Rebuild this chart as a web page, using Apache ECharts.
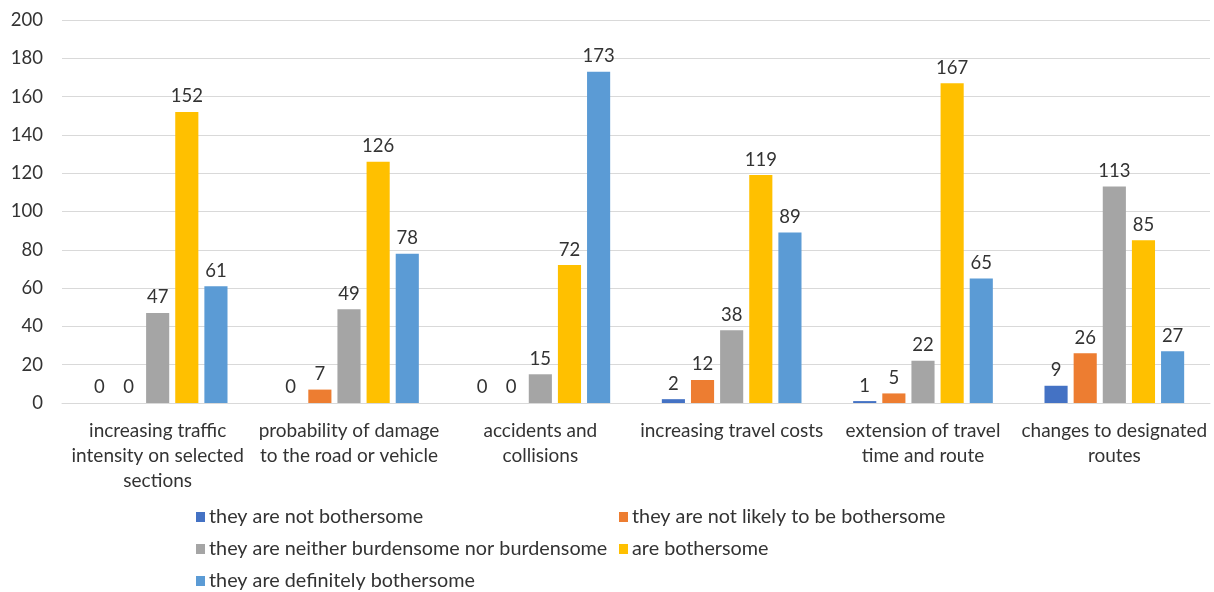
<!DOCTYPE html>
<html>
<head>
<meta charset="utf-8">
<script src="https://cdn.jsdelivr.net/npm/echarts@6/dist/echarts.min.js"></script>
<style>
  html, body { margin: 0; padding: 0; background: #fff; }
  #chart { width: 1214px; height: 592px; }
</style>
</head>
<body>
<div id="chart"></div>
<script>
// Categories (line breaks as wrapped under the axis)
const categories = [
  'increasing traffic\nintensity on selected\nsections',
  'probability of damage\nto the road or vehicle',
  'accidents and\ncollisions',
  'increasing travel costs',
  'extension of travel\ntime and route',
  'changes to designated\nroutes'
];

const seriesNames = [
  'they are not bothersome',
  'they are not likely to be bothersome',
  'they are neither burdensome nor burdensome',
  'are bothersome',
  'they are definitely bothersome'
];

const notBothersome        = [0, 0, 0, 2, 1, 9];
const notLikelyBothersome  = [0, 7, 0, 12, 5, 26];
const neitherBurdensome    = [47, 49, 15, 38, 22, 113];
const areBothersome        = [152, 126, 72, 119, 167, 85];
const definitelyBothersome = [61, 78, 173, 89, 65, 27];

const seriesValues = [notBothersome, notLikelyBothersome, neitherBurdensome, areBothersome, definitelyBothersome];
const colors = ['#4472C4', '#ED7D31', '#A5A5A5', '#FFC000', '#5B9BD5'];

const FONT = 'Lato, "Open Sans", sans-serif';
const TEXT = '#333333';

// One legend block per entry so they sit in two fixed columns
const legendPos = [
  { left: 196, top: 507 },
  { left: 619, top: 507 },
  { left: 196, top: 539 },
  { left: 619, top: 539 },
  { left: 196, top: 571 }
];

const chart = echarts.init(document.getElementById('chart'), null, { renderer: 'canvas' });

chart.setOption({
  animation: false,
  backgroundColor: '#ffffff',
  grid: { left: 62, right: 4, top: 20, bottom: 189, containLabel: false },
  legend: seriesNames.map((name, i) => ({
    data: [name],
    left: legendPos[i].left,
    top: legendPos[i].top,
    itemWidth: 9,
    itemHeight: 10,
    itemGap: 0,
    padding: 0,
    icon: 'rect',
    itemStyle: { borderWidth: 0 },
    textStyle: { fontFamily: FONT, fontSize: 19.8, color: TEXT, padding: [0, 0, 0, -1] }
  })),
  xAxis: {
    type: 'category',
    data: categories,
    axisLine: { show: true, lineStyle: { color: '#D9D9D9', width: 1 } },
    axisTick: { show: false },
    axisLabel: {
      interval: 0,
      margin: 15,
      fontFamily: FONT,
      fontSize: 19,
      color: TEXT,
      lineHeight: 25,
      align: 'center'
    }
  },
  yAxis: {
    type: 'value',
    min: 0,
    max: 200,
    interval: 20,
    axisLine: { show: false },
    axisTick: { show: false },
    splitLine: { lineStyle: { color: '#D9D9D9', width: 1 } },
    axisLabel: { fontFamily: FONT, fontSize: 18.5, color: TEXT, margin: 19 }
  },
  series: seriesNames.map((name, i) => ({
    name,
    type: 'bar',
    data: seriesValues[i],
    barGap: '26%',
    barCategoryGap: '27%',
    itemStyle: { color: colors[i] },
    label: {
      show: true,
      position: 'top',
      distance: 6,
      fontFamily: FONT,
      fontSize: 18.5,
      color: TEXT
    }
  }))
});
</script>
</body>
</html>
